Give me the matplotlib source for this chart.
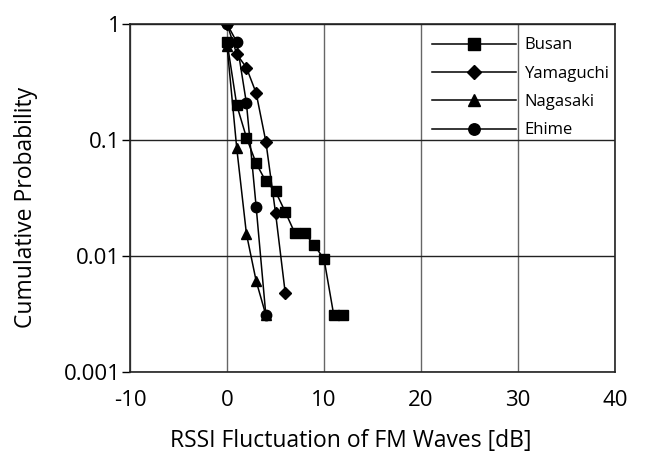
import matplotlib
matplotlib.use("Agg")
import matplotlib.pyplot as plt

plt.rcParams['font.family'] = ['Open Sans', 'DejaVu Sans']

busan_x = [0, 1, 2, 3, 4, 5, 6, 7, 8, 9, 10, 11, 12]
busan_y = [0.7, 0.2, 0.105, 0.063, 0.044, 0.036, 0.024, 0.0157, 0.0157, 0.0124, 0.0094, 0.0031, 0.0031]

yama_x = [0, 1, 2, 3, 4, 5, 6]
yama_y = [1.0, 0.55, 0.42, 0.254, 0.097, 0.0235, 0.0048]

naga_x = [0, 1, 2, 3, 4]
naga_y = [0.65, 0.085, 0.0155, 0.0061, 0.0031]

ehime_x = [0, 1, 2, 3, 4]
ehime_y = [1.0, 0.7, 0.207, 0.0266, 0.0031]

series = [
    ("Busan", busan_x, busan_y, "s"),
    ("Yamaguchi", yama_x, yama_y, "D"),
    ("Nagasaki", naga_x, naga_y, "^"),
    ("Ehime", ehime_x, ehime_y, "o"),
]

xticks = [-10, 0, 10, 20, 30, 40]
yticks = [0.001, 0.01, 0.1, 1]
ytick_labels = ["0.001", "0.01", "0.1", "1"]

fig = plt.figure(figsize=(6.45, 4.61), dpi=100)
ax = fig.add_axes([0.2016, 0.193, 0.752, 0.755])

for name, xs, ys, m in series:
    ms = 6.5 if m == "D" else 7.5
    ax.plot(xs, ys, color="black", marker=m, markersize=ms, linewidth=1.1, label=name)

ax.set_yscale("log")
ax.set_xlim(-10, 40)
ax.set_ylim(0.001, 1)
ax.set_xticks(xticks)
ax.set_xticklabels([str(t) for t in xticks])
ax.set_yticks(yticks)
ax.set_yticklabels(ytick_labels)
ax.yaxis.set_minor_locator(matplotlib.ticker.NullLocator())

ax.grid(True, which="major", axis="x", color="#666666", linewidth=1.0)
ax.grid(True, which="major", axis="y", color="#222222", linewidth=1.0)
ax.set_axisbelow(True)

ax.tick_params(axis="x", length=0, pad=13, labelsize=16)
ax.tick_params(axis="y", length=6, width=1, pad=1, labelsize=16)
for s in ax.spines.values():
    s.set_color("#222222")
    s.set_linewidth(1.2)

ax.set_xlabel("RSSI Fluctuation of FM Waves [dB]", fontsize=16.5)
ax.set_ylabel("Cumulative Probability", fontsize=16.5)
ax.xaxis.set_label_coords(0.456, -0.163)
ax.yaxis.set_label_coords(-0.19, 0.474)

leg = ax.legend(loc="upper left", bbox_to_anchor=(0.623, 0.9615), frameon=False,
                fontsize=12, handlelength=5.04, handletextpad=0.5,
                labelspacing=0.74, borderaxespad=0, borderpad=0, markerscale=1.1)

fig.savefig("out.png", dpi=100)
